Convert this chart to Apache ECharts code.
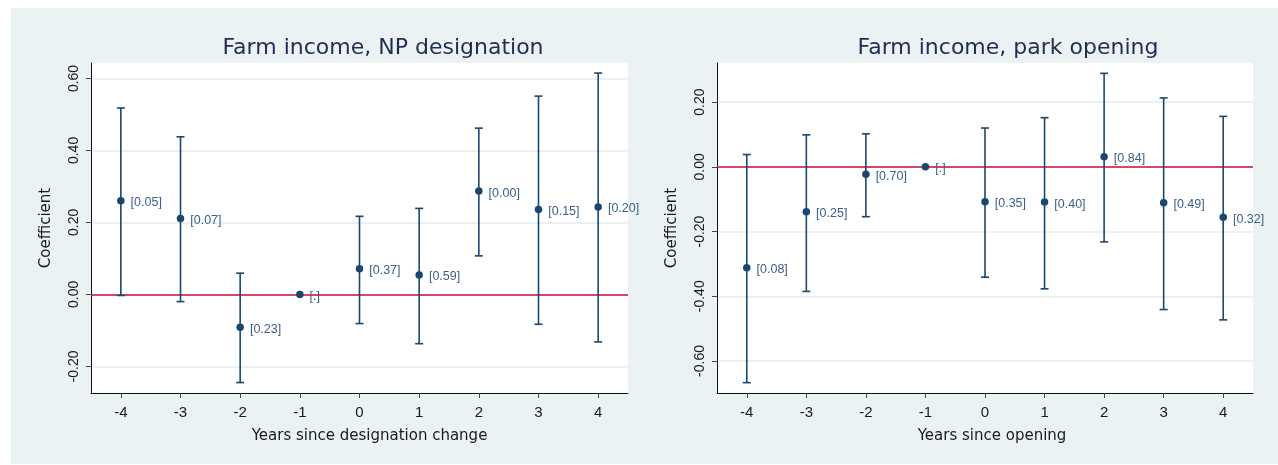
<!DOCTYPE html>
<html>
<head>
<meta charset="utf-8">
<script src="https://cdn.jsdelivr.net/npm/echarts@6/dist/echarts.min.js"></script>
<style>
html,body{margin:0;padding:0;background:#fff;}
#chart{width:1278px;height:465px;}
</style>
</head>
<body>
<div id="chart"></div>
<script>
// event-study coefficients
var years = [-4, -3, -2, -1, 0, 1, 2, 3, 4];

var coefNP = [0.260, 0.211, -0.091, 0, 0.071, 0.054, 0.287, 0.236, 0.243];
var lowNP = [-0.003, -0.020, -0.245, null, -0.081, -0.137, 0.107, -0.083, -0.132];
var highNP = [0.518, 0.438, 0.059, null, 0.217, 0.239, 0.462, 0.551, 0.615];
var pNP = ['[0.05]', '[0.07]', '[0.23]', '[.]', '[0.37]', '[0.59]', '[0.00]', '[0.15]', '[0.20]'];

var coefOpen = [-0.312, -0.139, -0.023, 0, -0.108, -0.109, 0.031, -0.111, -0.156];
var lowOpen = [-0.667, -0.385, -0.154, null, -0.341, -0.377, -0.232, -0.441, -0.473];
var highOpen = [0.038, 0.099, 0.102, null, 0.120, 0.152, 0.289, 0.213, 0.156];
var pOpen = ['[0.08]', '[0.25]', '[0.70]', '[.]', '[0.35]', '[0.40]', '[0.84]', '[0.49]', '[0.32]'];

var yTicksNP = [-0.2, 0, 0.2, 0.4, 0.6];
var yTicksOpen = [-0.6, -0.4, -0.2, 0, 0.2];

var navy = '#1a476f';
var bg = '#eaf2f3';

var myChart = echarts.init(document.getElementById('chart'));

function points(coef){
	var out = [];
	for (var i = 0; i < years.length; i++) out.push([years[i], coef[i]]);
	return out;
}
function bars(low, high){
	var out = [];
	for (var i = 0; i < years.length; i++){
		if (low[i] === null) continue;
		out.push([years[i], low[i], high[i]]);
	}
	return out;
}
function renderBar(params, api){
	var x = api.value(0);
	var lo = api.coord([x, api.value(1)]);
	var hi = api.coord([x, api.value(2)]);
	var st = {stroke: navy, lineWidth: 1.6};
	return {
		type: 'group',
		children: [
			{type: 'line', shape: {x1: lo[0], y1: lo[1], x2: hi[0], y2: hi[1]}, style: st},
			{type: 'line', shape: {x1: hi[0] - 4, y1: hi[1], x2: hi[0] + 4, y2: hi[1]}, style: st},
			{type: 'line', shape: {x1: lo[0] - 4, y1: lo[1], x2: lo[0] + 4, y2: lo[1]}, style: st}
		]
	};
}

function xAxisFor(idx, name, pad){
	return {
		type: 'value', gridIndex: idx, min: -4.5, max: 4.5,
		name: name, nameLocation: 'middle', nameGap: 36,
		nameTextStyle: {fontFamily: 'DejaVu Sans', fontSize: 15, color: '#1a1a1a', padding: [0, 0, 0, pad]},
		axisLine: {show: true, onZero: false, lineStyle: {color: '#111', width: 1}},
		axisTick: {show: true, length: 5, customValues: years, lineStyle: {color: '#444'}},
		axisLabel: {customValues: years, margin: 12, fontFamily: 'Liberation Sans', fontSize: 15, color: '#1a1a1a'},
		splitLine: {show: false}
	};
}
function yAxisFor(idx, min, max, ticks){
	return {
		type: 'value', gridIndex: idx, min: min, max: max,
		name: 'Coefficient', nameLocation: 'middle', nameGap: 37,
		nameTextStyle: {fontFamily: 'DejaVu Sans', fontSize: 15, color: '#1a1a1a'},
		axisLine: {show: true, onZero: false, lineStyle: {color: '#111', width: 1}},
		axisTick: {show: true, length: 5, customValues: ticks, lineStyle: {color: '#444'}},
		axisLabel: {
			customValues: ticks, rotate: 90, margin: 10,
			fontFamily: 'Liberation Sans', fontSize: 14, color: '#1a1a1a',
			formatter: function(v){ return v.toFixed(2); }
		},
		splitLine: {show: true, lineStyle: {color: '#e3eced', width: 1.5}}
	};
}
function panelSeries(idx, coef, low, high, pLab){
	return [
		{
			type: 'custom', xAxisIndex: idx, yAxisIndex: idx,
			renderItem: renderBar, data: bars(low, high), z: 3, silent: true
		},
		{
			type: 'scatter', xAxisIndex: idx, yAxisIndex: idx,
			symbol: 'circle', symbolSize: 7.5, z: 4,
			itemStyle: {color: navy, opacity: 1},
			label: {
				show: true, position: 'right', distance: 6, offset: [0, 2],
				fontFamily: 'Liberation Sans', fontSize: 12.5, color: '#3a5f8a',
				formatter: function(p){ return pLab[p.dataIndex]; }
			},
			markLine: {
				silent: true, symbol: 'none', z: 2,
				label: {show: false},
				lineStyle: {color: '#cc0e3a', width: 1.6, type: 'solid'},
				data: [{yAxis: 0}]
			},
			data: points(coef)
		}
	];
}

var option = {
	backgroundColor: '#fff',
	animation: false,
	graphic: [{
		type: 'rect', z: -10, silent: true,
		shape: {x: 11, y: 8, width: 1267, height: 456},
		style: {fill: bg}
	}],
	title: [
		{text: 'Farm income, NP designation', left: 378, top: 32, textAlign: 'center',
			textStyle: {fontFamily: 'DejaVu Sans', fontSize: 22, fontWeight: 'normal', color: '#1e2d53'}},
		{text: 'Farm income, park opening', left: 1003, top: 32, textAlign: 'center',
			textStyle: {fontFamily: 'DejaVu Sans', fontSize: 22, fontWeight: 'normal', color: '#1e2d53'}}
	],
	grid: [
		{left: 91, top: 63, width: 537, height: 330, show: true, backgroundColor: '#fff', borderWidth: 0},
		{left: 717, top: 63, width: 536, height: 330, show: true, backgroundColor: '#fff', borderWidth: 0}
	],
	xAxis: [
		xAxisFor(0, 'Years since designation change', 20),
		xAxisFor(1, 'Years since opening', 14)
	],
	yAxis: [
		yAxisFor(0, -0.274, 0.643, yTicksNP),
		yAxisFor(1, -0.699, 0.321, yTicksOpen)
	],
	series: panelSeries(0, coefNP, lowNP, highNP, pNP).concat(panelSeries(1, coefOpen, lowOpen, highOpen, pOpen))
};

myChart.setOption(option);
</script>
</body>
</html>
